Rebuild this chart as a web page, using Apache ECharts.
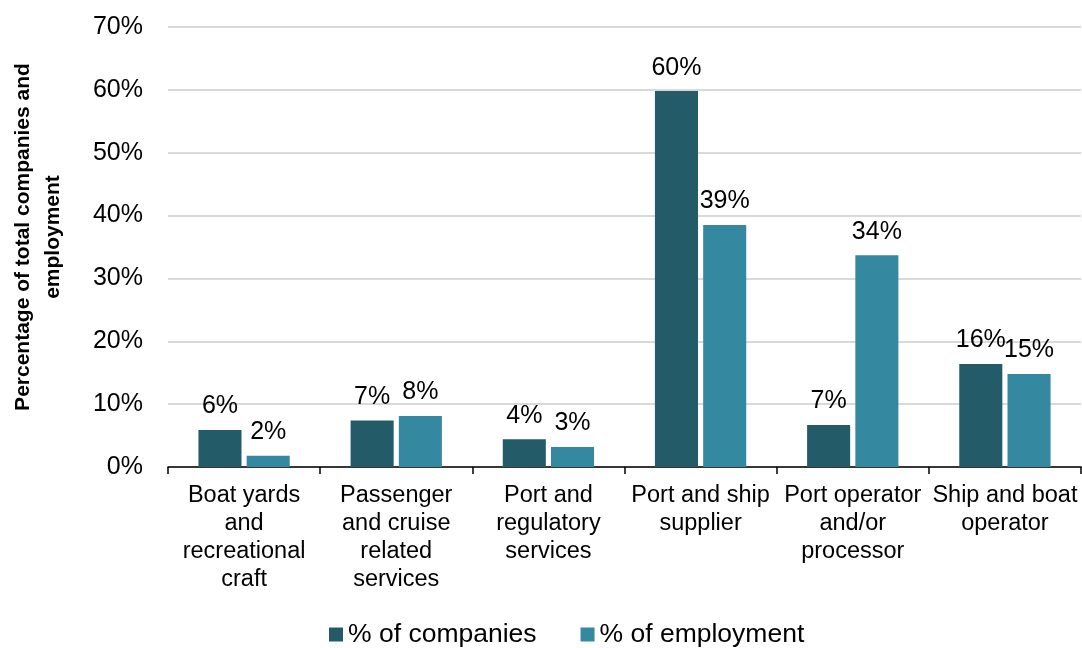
<!DOCTYPE html>
<html>
<head>
<meta charset="utf-8">
<script src="https://cdn.jsdelivr.net/npm/echarts@6/dist/echarts.min.js"></script>
<style>
  html, body { margin: 0; padding: 0; background: #fff; }
  #chart { width: 1082px; height: 648px; }
</style>
</head>
<body>
<div id="chart"></div>
<script>
// Sector categories along the x axis
const categories = [
  'Boat yards\nand\nrecreational\ncraft',
  'Passenger\nand cruise\nrelated\nservices',
  'Port and\nregulatory\nservices',
  'Port and ship\nsupplier',
  'Port operator\nand/or\nprocessor',
  'Ship and boat\noperator'
];

// Share of companies and of employment per sector (%)
const companiesPct = [5.9, 7.4, 4.4, 59.8, 6.7, 16.4];
const employmentPct = [1.8, 8.1, 3.2, 38.5, 33.7, 14.8];

const seriesNames = ['% of companies', '% of employment'];
const yTicks = { min: 0, max: 70, interval: 10 };

const FONT = '"Liberation Sans", Arial, sans-serif';
const labelStyle = {
  show: true,
  position: 'top',
  distance: 11,
  fontFamily: FONT,
  fontSize: 25,
  color: '#000',
  formatter: p => Math.round(p.value) + '%'
};

const chart = echarts.init(document.getElementById('chart'), null, { renderer: 'canvas' });
chart.setOption({
  animation: false,
  textStyle: { fontFamily: FONT },
  grid: { left: 163, right: 1, top: 27, bottom: 181, containLabel: false },
  legend: {
    bottom: -5,
    left: 324,
    itemWidth: 14,
    itemHeight: 14,
    itemGap: 44,
    icon: 'rect',
    textStyle: { fontFamily: FONT, fontSize: 26.5, color: '#000' },
    data: seriesNames
  },
  xAxis: {
    type: 'category',
    data: categories,
    axisLine: { lineStyle: { color: '#000', width: 1.5 } },
    axisTick: { show: true, length: 7, lineStyle: { color: '#000', width: 1.5 } },
    axisLabel: {
      interval: 0,
      margin: 15,
      fontFamily: FONT,
      fontSize: 23.5,
      lineHeight: 28,
      color: '#000',
      align: 'center'
    }
  },
  yAxis: {
    type: 'value',
    min: yTicks.min,
    max: yTicks.max,
    interval: yTicks.interval,
    name: 'Percentage of total companies and\nemployment',
    nameLocation: 'middle',
    nameGap: 100,
    nameTextStyle: {
      fontFamily: FONT,
      fontSize: 21,
      fontWeight: 'bold',
      color: '#000',
      lineHeight: 30,
      align: 'center',
      padding: [0, 0, 0, 20]
    },
    axisLine: { show: false },
    axisTick: { show: false },
    axisLabel: {
      margin: 25,
      fontFamily: FONT,
      fontSize: 25,
      color: '#000',
      formatter: v => v + '%'
    },
    splitLine: { lineStyle: { color: '#d9d9d9', width: 2 } }
  },
  series: [
    {
      name: seriesNames[0],
      type: 'bar',
      data: companiesPct,
      barGap: '12%',
      barCategoryGap: '40%',
      itemStyle: { color: '#245B69' },
      label: labelStyle
    },
    {
      name: seriesNames[1],
      type: 'bar',
      data: employmentPct,
      barGap: '12%',
      barCategoryGap: '40%',
      itemStyle: { color: '#3489A0' },
      label: labelStyle
    }
  ]
});
</script>
</body>
</html>
